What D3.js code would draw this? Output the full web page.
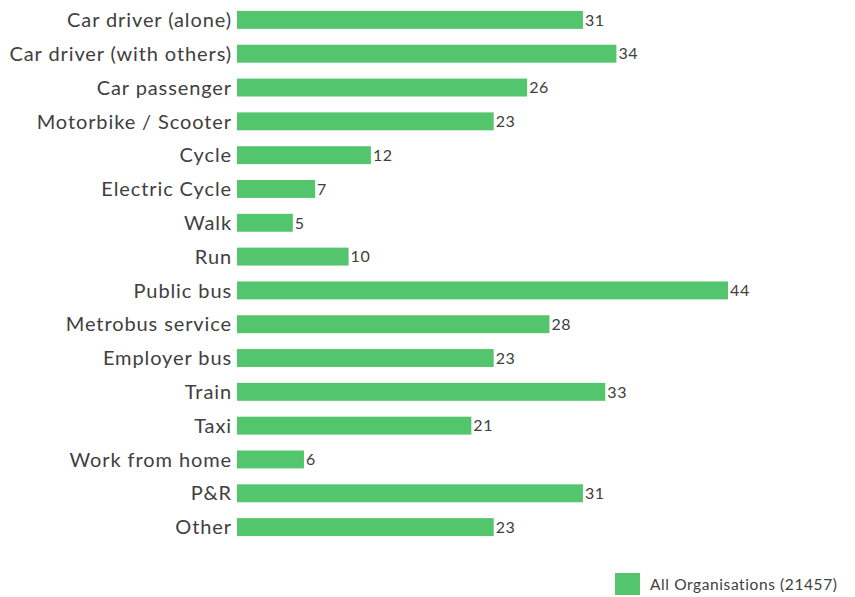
<!DOCTYPE html>
<html><head><meta charset="utf-8">
<script src="https://cdn.jsdelivr.net/npm/d3@7"></script>
<style>body{margin:0;background:#fff;} text{font-family:Lato, "Open Sans", sans-serif;}</style>
</head><body><svg id="c" width="855" height="597"></svg>
<script>
const categories = ["Car driver (alone)","Car driver (with others)","Car passenger","Motorbike / Scooter","Cycle","Electric Cycle","Walk","Run","Public bus","Metrobus service","Employer bus","Train","Taxi","Work from home","P&R","Other"];
const values = [31,34,26,23,12,7,5,10,44,28,23,33,21,6,31,23];
const seriesName = "All Organisations (21457)";

const svg = d3.select("#c");
const color = "#53c56c";
const x = d3.scaleLinear().domain([0,44]).range([237,728]);
const y = d3.scaleBand().domain(categories).range([3,544]).paddingInner(0.47).paddingOuter(0.235);

svg.selectAll("rect.bar").data(values).join("rect").attr("class","bar")
  .attr("x",x(0)).attr("y",(d,i)=>y(categories[i]))
  .attr("width",d=>x(d)-x(0)).attr("height",y.bandwidth()).attr("fill",color);

svg.selectAll("text.lab").data(categories).join("text").attr("class","lab")
  .attr("x",232).attr("y",d=>y(d)+y.bandwidth()/2).attr("dy","0.36em")
  .attr("text-anchor","end").attr("font-size",20).attr("letter-spacing","0.9px").attr("fill","#404040").text(d=>d);

svg.selectAll("text.val").data(values).join("text").attr("class","val")
  .attr("x",d=>x(d)+2).attr("y",(d,i)=>y(categories[i])+y.bandwidth()/2).attr("dy","0.36em")
  .attr("font-size",16).attr("letter-spacing","0.6px").attr("fill","#404040").text(d=>d);

svg.append("rect").attr("x",615).attr("y",573).attr("width",25).attr("height",22).attr("fill",color);
svg.append("text").attr("x",650).attr("y",584).attr("dy","0.36em").attr("font-size",15.5).attr("letter-spacing","0.6px").attr("fill","#404040").text(seriesName);
</script></body></html>
